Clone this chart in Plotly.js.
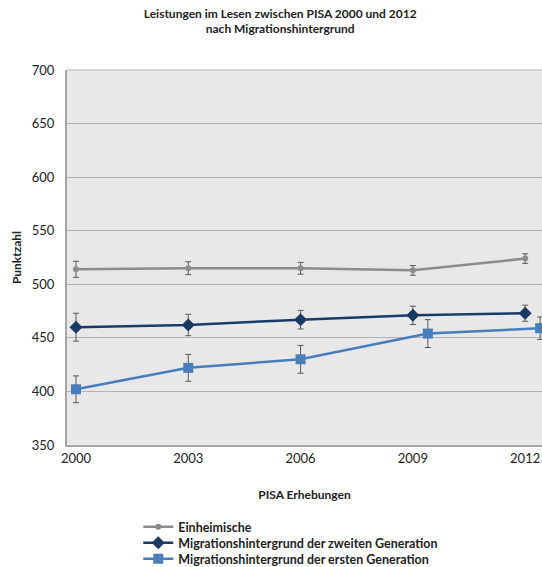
<!DOCTYPE html>
<html>
<head>
<meta charset="utf-8">
<script src="https://cdn.plot.ly/plotly-3.0.1.min.js"></script>
<style>html,body{margin:0;padding:0;background:#fff;}#chart{width:542px;height:567px;}</style>
</head>
<body>
<div id="chart"></div>
<script>
const years = [2000, 2003, 2006, 2009, 2012];
const yearsFirstGen = [2000, 2003, 2006, 2009.4, 2012.4];
const tickLabels = ["2000", "2003", "2006", "2009", "2012"];

const einheimische = [514, 515, 515, 513, 524];
const einheimischeErr = [7.5, 6, 5.5, 4.5, 4.5];

const zweiteGen = [460, 462, 467, 471, 473];
const zweiteGenErr = [13, 10, 8.7, 8.5, 7.5];

const ersteGen = [402, 422, 430, 454, 459];
const ersteGenErr = [12.5, 12.5, 13, 13, 10.5];

const seriesNames = [
  "Einheimische",
  "Migrationshintergrund der zweiten Generation",
  "Migrationshintergrund der ersten Generation"
];

const font = "Lato, 'Open Sans', sans-serif";
const errStyle = (arr) => ({type: 'data', array: arr, visible: true, color: '#5a5a5a', thickness: 1, width: 3});

const traces = [
  {x: years, y: einheimische, name: '<b>' + seriesNames[0] + '</b>', mode: 'lines+markers', legend: 'legend',
   line: {color: '#8c8c8c', width: 2.5}, marker: {symbol: 'circle', size: 6, color: '#8c8c8c'},
   error_y: errStyle(einheimischeErr)},
  {x: years, y: zweiteGen, name: '<b>' + seriesNames[1] + '</b>', mode: 'lines+markers', legend: 'legend2',
   line: {color: '#1b3a63', width: 2.5}, marker: {symbol: 'diamond', size: 10, color: '#1b3a63'},
   error_y: errStyle(zweiteGenErr)},
  {x: yearsFirstGen, y: ersteGen, name: '<b>' + seriesNames[2] + '</b>', mode: 'lines+markers', legend: 'legend3',
   line: {color: '#4a7ebb', width: 2.5}, marker: {symbol: 'square', size: 10, color: '#4a7ebb'},
   error_y: errStyle(ersteGenErr)}
];

const legendBase = (yPx) => ({x: 0.15, xanchor: 'left', y: 1 - yPx / 567, yref: 'container', yanchor: 'middle',
  orientation: 'v', font: {size: 12.5, color: '#222'}, bgcolor: 'rgba(0,0,0,0)', itemwidth: 30,
  borderwidth: 0});

const layout = {
  width: 542, height: 567,
  margin: {l: 67, r: 0, t: 70, b: 122, autoexpand: false},
  paper_bgcolor: '#ffffff',
  plot_bgcolor: '#e8e8e8',
  font: {family: font, color: '#222', size: 12},
  title: {text: '<b>Leistungen im Lesen zwischen PISA 2000 und 2012<br>nach Migrationshintergrund</b>',
          font: {family: font, size: 12, color: '#222'},
          x: 0.517, xanchor: 'center', y: 0.969, yanchor: 'top', yref: 'container'},
  xaxis: {range: [1999.76, 2012.45], tickvals: years, ticktext: tickLabels,
          showgrid: false, zeroline: false, showline: true, linecolor: '#a6a6a6', linewidth: 2,
          ticks: '', tickfont: {size: 13, color: '#222'},
          title: {text: '<b>PISA Erhebungen</b>', font: {size: 12, color: '#222'}, standoff: 26}},
  yaxis: {range: [350, 700], dtick: 50, showgrid: true, gridcolor: '#b4b4b4', gridwidth: 1,
          zeroline: false, showline: true, linecolor: '#a6a6a6', linewidth: 2, mirror: false,
          ticks: 'outside', ticklen: 8, tickcolor: 'rgba(0,0,0,0)', tickfont: {size: 13, color: '#222'},
          title: {text: '<b>Punktzahl</b>', font: {size: 12, color: '#222'}, standoff: 8}},
  showlegend: true,
  legend: legendBase(527),
  legend2: legendBase(543),
  legend3: legendBase(559),
  shapes: [{type: 'line', xref: 'paper', yref: 'paper', x0: 0, x1: 1, y0: 1, y1: 1,
            line: {color: '#b4b4b4', width: 1}}]
};

Plotly.newPlot('chart', traces, layout, {displayModeBar: false, staticPlot: true});
</script>
</body>
</html>
